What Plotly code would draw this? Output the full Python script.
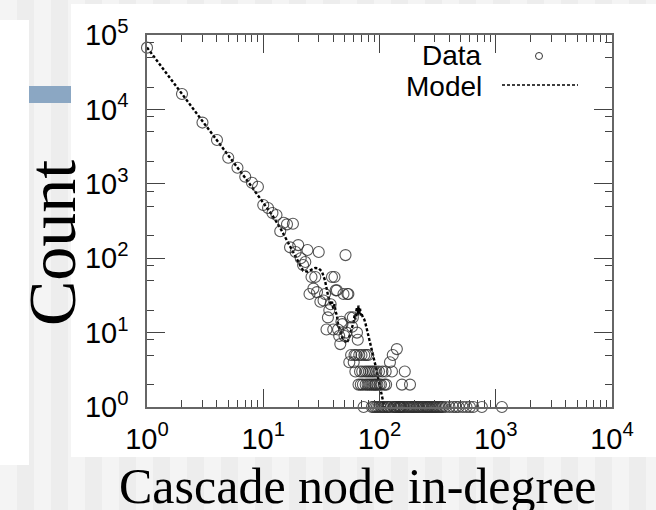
import plotly.graph_objects as go

# ---------------- data ----------------
data_degree = [1, 2, 3, 4, 5, 6, 7, 8, 9, 10, 11, 12, 13, 14, 15, 16, 17, 18, 19, 20,
               21, 22, 23, 24, 25, 26, 27, 28, 29, 30, 31, 33, 34, 35, 36, 37, 38, 39, 40,
               41, 42, 43, 44, 45, 46, 47, 48, 49, 50, 51, 52, 53, 54, 55, 56, 57, 58, 59,
               60, 61, 62, 63, 64, 65, 66, 67, 68, 69, 70, 71, 72, 73, 74, 75, 76, 77, 78,
               79, 80, 81, 82, 84, 85, 86, 87, 88, 89, 90, 91, 92, 93, 94, 95, 96, 98, 99,
               100, 102, 103, 105, 106, 108, 110, 111, 113, 114, 116, 118, 120, 123, 125,
               128, 130, 132, 134, 137, 140, 141, 145, 148, 150, 152, 155, 156, 160, 163,
               165, 170, 175, 180, 183, 185, 190, 195, 198, 205, 210, 215, 220, 228, 235,
               240, 248, 255, 260, 265, 272, 280, 288, 295, 302, 310, 320, 330, 340, 350,
               370, 400, 430, 455, 480, 520, 560, 600, 640, 760, 1130]
data_count = [67600, 16100, 6650, 3880, 2240, 1645, 1247, 1035, 914, 519, 473, 405, 380, 230, 300, 285, 140, 290, 121, 150,
              100, 81, 89, 129, 33, 56, 39, 56, 35, 121, 26, 27, 33, 11, 16, 20, 24, 56, 11,
              56, 37, 37, 11, 9, 7, 14, 13, 33, 9, 110, 10, 33, 33, 4, 16, 5, 12, 16,
              4, 5, 3, 5, 10, 8, 2, 5, 3, 2, 5, 3, 2, 1, 5, 3, 2, 5, 3,
              2, 5, 3, 2, 3, 2, 1, 3, 2, 1, 3, 2, 1, 2, 3, 1, 2, 1, 3,
              2, 1, 2, 1, 3, 1, 2, 1, 3, 2, 1, 1, 1, 4, 1,
              3, 5, 1, 1, 1, 1, 6, 1, 1, 1, 1, 1, 2, 1, 1,
              3, 1, 1, 1, 2, 1, 1, 1, 1, 1, 1, 1, 1, 1, 1,
              1, 1, 1, 1, 1, 1, 1, 1, 1, 1, 1, 1, 1, 1, 1,
              1, 1, 1, 1, 1, 1, 1, 1, 1, 1, 1]

model_degree = [1, 2, 3, 4, 5, 6, 7, 8, 9, 10, 12, 14, 16, 18, 20, 21, 22, 24, 26, 28, 30,
                32, 34, 36, 38, 39, 40, 41, 42, 43, 44, 46, 48, 50, 52, 54, 56, 58, 60, 61,
                62, 63, 64, 65, 66, 67, 68, 69, 70, 72, 74, 76, 78, 80, 83, 86, 88, 90, 92,
                95, 97, 100, 103, 105, 107, 110]
model_count = [68000, 16300, 7000, 3900, 2400, 1650, 1200, 900, 700, 545, 375, 255, 175, 120,
               92, 78, 68, 66, 70, 74, 73, 66, 50, 32, 24, 26, 21, 24, 19, 17, 13, 10, 8.5,
               7.8, 7.2, 8, 9.5, 12, 14, 17, 15, 19, 22, 17, 23, 18, 21, 17, 18, 16, 15, 13,
               11, 9, 7.5, 6, 5, 4.5, 4, 3, 2.5, 2, 1.6, 1.4, 1.15, 1]

x_tick_vals = [1, 10, 100, 1000, 10000]
x_tick_text = ["10<sup>0</sup>", "10<sup>1</sup>", "10<sup>2</sup>", "10<sup>3</sup>", "10<sup>4</sup>"]
y_tick_vals = [1, 10, 100, 1000, 10000, 100000]
y_tick_text = ["10<sup>0</sup>", "10<sup>1</sup>", "10<sup>2</sup>", "10<sup>3</sup>",
               "10<sup>4</sup>", "10<sup>5</sup>"]
legend_labels = ["Data", "Model"]
x_title = "Cascade node in-degree"
y_title = "Count"

# ---------------- layout geometry (pixels) ----------------
W, H = 656, 510
L, R, T, B = 147, 44, 35, 103
PW, PH = W - L - R, H - T - B


def px(xp):
    return (xp - L) / PW


def py(yp):
    return (H - B - yp) / PH


fig = go.Figure()

fig.add_trace(go.Scatter(
    x=model_degree, y=model_count, mode="lines",
    line=dict(color="black", width=2.4, dash="3px,2px"),
    name=legend_labels[1], cliponaxis=False, hoverinfo="skip"))

fig.add_trace(go.Scatter(
    x=data_degree, y=data_count, mode="markers",
    marker=dict(symbol="circle-open", size=11, color="rgba(45,45,45,0.8)",
                line=dict(width=1.1, color="rgba(45,45,45,0.8)")),
    name=legend_labels[0], cliponaxis=False))

# background of the slide
shapes = []
stripe_w = 17
k = 0
xs = 0
while xs < W:
    if k % 2 == 0:
        shapes.append(dict(type="rect", xref="paper", yref="paper", layer="below",
                           x0=px(xs), x1=px(min(xs + stripe_w, W)), y0=py(H), y1=py(0),
                           fillcolor="#f4f4f4", line=dict(width=0)))
    xs += stripe_w
    k += 1
shapes.append(dict(type="rect", xref="paper", yref="paper", layer="below",
                   x0=px(71), x1=px(W), y0=py(457), y1=py(4),
                   fillcolor="white", line=dict(width=0)))
shapes.append(dict(type="rect", xref="paper", yref="paper", layer="below",
                   x0=px(0), x1=px(29), y0=py(465), y1=py(20),
                   fillcolor="white", line=dict(width=0)))
shapes.append(dict(type="rect", xref="paper", yref="paper", layer="below",
                   x0=px(29), x1=px(71), y0=py(103), y1=py(86),
                   fillcolor="#8ba7c3", line=dict(width=0)))
# legend samples
shapes.append(dict(type="circle", xref="paper", yref="paper",
                   x0=px(535.5), x1=px(542.5), y0=py(59.5), y1=py(52.5),
                   line=dict(color="#333", width=1)))
shapes.append(dict(type="line", xref="paper", yref="paper",
                   x0=px(502), x1=px(578), y0=py(85), y1=py(85),
                   line=dict(color="black", width=1.5, dash="3px,2px")))

annotations = [
    dict(text=legend_labels[0], xref="paper", yref="paper", x=px(484), y=py(56),
         xanchor="right", yanchor="middle", showarrow=False,
         font=dict(family="Liberation Sans", size=28, color="black")),
    dict(text=legend_labels[1], xref="paper", yref="paper", x=px(484), y=py(86),
         xanchor="right", yanchor="middle", showarrow=False,
         font=dict(family="Liberation Sans", size=28, color="black")),
    dict(text=x_title, xref="paper", yref="paper", x=px(358), y=py(486),
         xanchor="center", yanchor="middle", showarrow=False,
         font=dict(family="Liberation Serif", size=50, color="black")),
    dict(text=y_title, xref="paper", yref="paper", x=px(52), y=py(243),
         xanchor="center", yanchor="middle", showarrow=False, textangle=-90,
         font=dict(family="Liberation Serif", size=68, color="black")),
]

x_minor = [m * 10 ** d for d in range(4) for m in range(2, 10)]
y_minor = [m * 10 ** d for d in range(5) for m in (2, 5, 8)]

axis_common = dict(type="log", showline=True, linecolor="#666", linewidth=1.5,
                   mirror="ticks", ticks="inside", ticklen=18, tickwidth=1.3,
                   tickcolor="#444", showgrid=False, zeroline=False, tickmode="array",
                   tickfont=dict(family="Liberation Sans", size=29, color="black"))

fig.update_layout(
    width=W, height=H, autosize=False,
    margin=dict(l=L, r=R, t=T, b=B, pad=0),
    paper_bgcolor="#ededed", plot_bgcolor="white",
    showlegend=False,
    shapes=shapes, annotations=annotations,
    xaxis=dict(range=[0, 4], tickvals=x_tick_vals, ticktext=x_tick_text,
               ticklabelstandoff=5,
               minor=dict(ticks="inside", ticklen=7, tickwidth=1.2, tickcolor="#444",
                          tickvals=x_minor, showgrid=False),
               **axis_common),
    yaxis=dict(range=[0, 5], tickvals=y_tick_vals, ticktext=y_tick_text,
               ticklabelstandoff=11,
               minor=dict(ticks="inside", ticklen=7, tickwidth=1.2, tickcolor="#444",
                          tickvals=y_minor, showgrid=False),
               **axis_common),
)

fig.write_html("out.html", config={"displayModeBar": False},
               post_script="document.body.style.margin='0';document.body.style.padding='0';")
